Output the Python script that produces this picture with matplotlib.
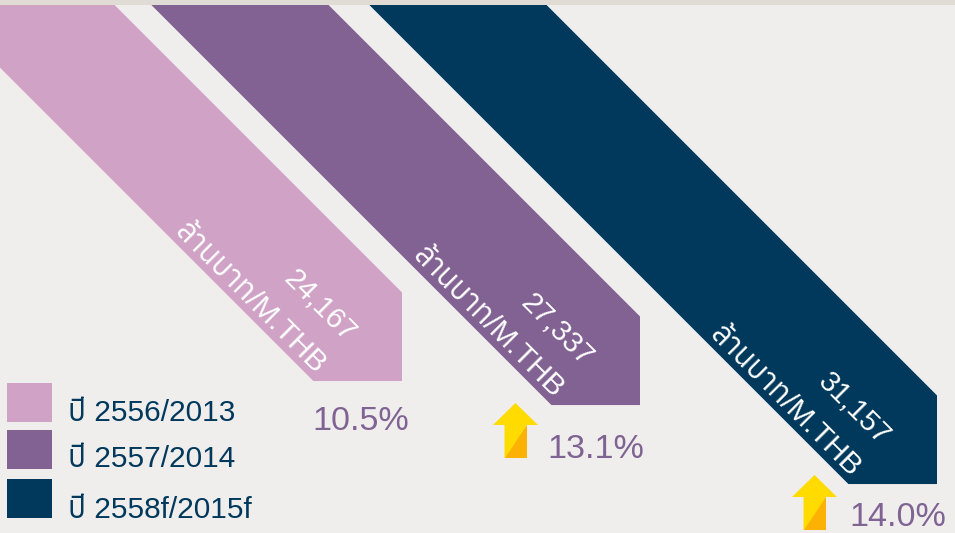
import matplotlib
matplotlib.use("Agg")
import matplotlib.pyplot as plt
from matplotlib import font_manager as fm
from matplotlib.patches import Polygon, Rectangle
from matplotlib.font_manager import get_font

# ---- data ----
years = ["ปี 2556/2013", "ปี 2557/2014", "ปี 2558f/2015f"]
revenue = [24167, 27337, 31157]
growth = ["10.5%", "13.1%", "14.0%"]
unit_label = "ล้านบาท/M.THB"
has_arrow = [False, True, True]

# ---- style / layout ----
BG, BAND = "#f0eeed", "#e0dbd5"
colors = ["#cfa2c6", "#816293", "#00395c"]
TXT = "#7f6393"
scale = 0.02          # pixels of travel per unit of value
bar_right = [402, 640, 937]
bar_origin = [-102.3, -141.7, -139.1]
cut = 88.6
top = 5

thai = []
for f in fm.fontManager.ttflist:
    try:
        if 0x0E1B in get_font(f.fname).get_charmap():
            thai.append(f.name)
    except Exception:
        pass
families = ["Liberation Sans"] + sorted(set(thai))[:1] + ["DejaVu Sans"]
plt.rcParams["font.family"] = families

fig = plt.figure(figsize=(9.55, 5.33), dpi=100, facecolor=BG)
ax = fig.add_axes([0, 0, 1, 1])
ax.set_xlim(0, 955)
ax.set_ylim(533, 0)
ax.axis("off")
ax.add_patch(Rectangle((0, 0), 955, top, fc=BAND, ec="none"))

clip = Rectangle((0, top), 955, 533 - top, transform=ax.transData)
for i, v in enumerate(revenue):
    xr = bar_right[i]
    yb = bar_origin[i] + v * scale
    far = yb + 50
    poly = Polygon([(xr, yb), (xr - cut, yb), (xr - cut - far, yb - far),
                    (xr - far, yb - cut - far), (xr, yb - cut)],
                   closed=True, fc=colors[i], ec="none")
    ax.add_patch(poly)
    poly.set_clip_path(clip)
    ax.text(xr - 83, yb - 75, f"{v:,}", color="white", fontsize=21, rotation=-45,
            rotation_mode="anchor", ha="center", va="center")
    ax.text(xr - 152, yb - 83, unit_label, color="white", fontsize=21.5, rotation=-45,
            rotation_mode="anchor", ha="center", va="center")

# legend
leg_y = [383, 430, 479]
leg_base = [421, 467, 518]
for c, y, b, t in zip(colors, leg_y, leg_base, years):
    ax.add_patch(Rectangle((7, y), 45, 39, fc=c, ec="none"))
    ax.text(68, b, t, color=colors[2], fontsize=21.5, va="baseline", ha="left")

# growth labels
gx = [312, 547, 849]
gb = [430, 458, 526]
for x, b, t in zip(gx, gb, growth):
    ax.text(x, b, t, color=TXT, fontsize=24.6, va="baseline", ha="left")

# arrows
ax_pos = [(515.5, 403), (814.5, 475)]
arrow_ix = [i for i, a in enumerate(has_arrow) if a]
for i, (cx, ty) in zip(arrow_ix, ax_pos):
    ax.add_patch(Polygon([(cx, ty), (cx + 22.5, ty + 22), (cx + 11, ty + 22), (cx + 11, ty + 55),
                          (cx - 11, ty + 55), (cx - 11, ty + 22), (cx - 22.5, ty + 22)],
                         closed=True, fc="#ffdb00", ec="none"))
    ax.add_patch(Polygon([(cx - 11, ty + 55), (cx + 11, ty + 55), (cx + 11, ty + 22)],
                         closed=True, fc="#fbb205", ec="none"))

fig.savefig("out.png", dpi=100, facecolor=BG)
